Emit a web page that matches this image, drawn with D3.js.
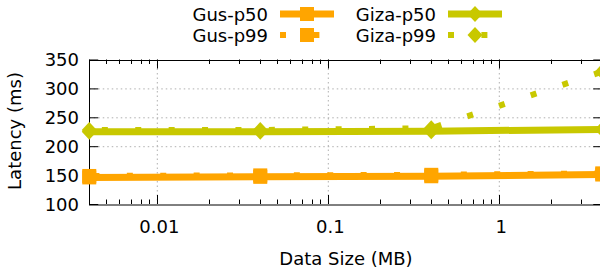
<!DOCTYPE html>
<html><head><meta charset="utf-8">
<script src="https://cdn.jsdelivr.net/npm/d3@7"></script>
<style>
html,body{margin:0;padding:0;background:#fff;}
svg{display:block;font-family:"DejaVu Sans",sans-serif;}
</style></head>
<body><svg id="c" width="600" height="273"></svg>
<script>
// ---- data ----
const sizesMB = [0.004, 0.04, 0.4, 4];
const gusP50  = [146, 147, 148, 151];
const gusP99  = [148.5, 149.5, 150.5, 153];
const gizaP50 = [225, 225, 226, 229];
const gizaP99 = [228, 228, 231, 329];
const yTickValues = [100, 150, 200, 250, 300, 350];
const xTickValues = [0.01, 0.1, 1];
const seriesNames = ["Gus-p50", "Gus-p99", "Giza-p50", "Giza-p99"];
const seriesColors = ["#FFA500", "#FFA500", "#C8C800", "#C8C800"];

const svg = d3.select("#c");
const x = d3.scaleLog().domain([0.01, 1]).range([157.3, 499.3]);
const y = d3.scaleLinear().domain([100, 350]).range([204, 59.5]);
const xL = x(0.004), xR = x(4), yB = y(100), yT = y(350);
const FS = 18;

// grid
const grid = svg.append("g").attr("stroke", "#b0b0b0").attr("stroke-width", 1).attr("stroke-dasharray", "1.5 3");
yTickValues.filter(v => v > 100 && v < 350).forEach(v => {
  grid.append("line").attr("x1", xL).attr("x2", xR).attr("y1", y(v) + 0.5).attr("y2", y(v) + 0.5);
});
xTickValues.forEach(v => {
  grid.append("line").attr("x1", x(v)).attr("x2", x(v)).attr("y1", yT).attr("y2", yB);
});

// ticks (inward, mirrored)
const ticks = svg.append("g").attr("stroke", "#000").attr("stroke-width", 1);
const minor = [];
for (let e = -3; e <= 0; e++) for (let m = 1; m <= 9; m++) {
  const v = m * Math.pow(10, e);
  if (v >= 0.004 && v <= 4) minor.push({v, major: m === 1});
}
minor.forEach(t => {
  const len = t.major ? 9 : 4.5;
  const xx = Math.round(x(t.v)) + 0.5;
  ticks.append("line").attr("x1", xx).attr("x2", xx).attr("y1", yB).attr("y2", yB - len);
  ticks.append("line").attr("x1", xx).attr("x2", xx).attr("y1", yT).attr("y2", yT + len);
});
yTickValues.forEach(v => {
  ticks.append("line").attr("x1", xL).attr("x2", xL + 9).attr("y1", y(v) + 0.5).attr("y2", y(v) + 0.5);
  ticks.append("line").attr("x1", xR).attr("x2", xR - 9).attr("y1", y(v) + 0.5).attr("y2", y(v) + 0.5);
});

// frame
svg.append("rect").attr("x", Math.round(xL) + 0.5).attr("y", Math.round(yT) + 0.5)
  .attr("width", xR - xL).attr("height", yB - yT)
  .attr("fill", "none").attr("stroke", "#000").attr("stroke-width", 1);

// tick labels
const lab = svg.append("g").attr("font-size", FS).attr("fill", "#000");
yTickValues.forEach(v => {
  lab.append("text").attr("x", 79).attr("y", y(v) + 6.5).attr("text-anchor", "end").text(v);
});
xTickValues.forEach(v => {
  lab.append("text").attr("x", x(v) + 2).attr("y", 233).attr("text-anchor", "middle").text(String(v));
});
lab.append("text").attr("x", 346).attr("y", 265).attr("text-anchor", "middle").text("Data Size (MB)");
lab.append("text").attr("transform", "translate(21,131) rotate(-90)").attr("text-anchor", "middle").text("Latency (ms)");

// markers
function square(g, cx, cy, col) {
  g.append("rect").attr("x", cx - 7).attr("y", cy - 7).attr("width", 14).attr("height", 14).attr("fill", col);
}
function diamond(g, cx, cy, col) {
  g.append("path").attr("d", `M${cx},${cy - 8}L${cx + 7.5},${cy}L${cx},${cy + 8}L${cx - 7.5},${cy}Z`).attr("fill", col);
}

// series
const all = [gusP50, gusP99, gizaP50, gizaP99];
const dashOff = [0, 29.2, 0, 20.8];
const plot = svg.append("g");
const line = d3.line().x(d => x(d[0])).y(d => y(d[1]));
all.forEach((vals, i) => {
  const pts = sizesMB.map((s, k) => [s, vals[k]]);
  const dotted = i % 2 === 1;
  const p = plot.append("path").attr("d", line(pts)).attr("fill", "none")
    .attr("stroke", seriesColors[i]).attr("stroke-width", dotted ? 6 : 7)
    .attr("stroke-linejoin", "round");
  if (dotted) p.attr("stroke-dasharray", "6 27.4").attr("stroke-dashoffset", dashOff[i]);
  pts.forEach(d => (i < 2 ? square : diamond)(plot, x(d[0]), y(d[1]), seriesColors[i]));
});

// legend
const leg = svg.append("g");
const colText = [268, 436];
const rowY = [14, 35];
seriesNames.forEach((name, i) => {
  const c = i < 2 ? 0 : 1, r = i % 2;
  const tx = colText[c], cy = rowY[r];
  leg.append("text").attr("x", tx).attr("y", cy + 6.5).attr("text-anchor", "end")
    .attr("font-size", FS).attr("fill", "#000").text(name);
  const x0 = tx + 12, x1 = x0 + 54;
  const l = leg.append("line").attr("x1", x0).attr("x2", x1).attr("y1", cy).attr("y2", cy)
    .attr("stroke", seriesColors[i]).attr("stroke-width", r ? 6 : 7);
  if (r) l.attr("stroke-dasharray", "6 27.4");
  (c === 0 ? square : diamond)(leg, (x0 + x1) / 2, cy, seriesColors[i]);
});
</script></body></html>
